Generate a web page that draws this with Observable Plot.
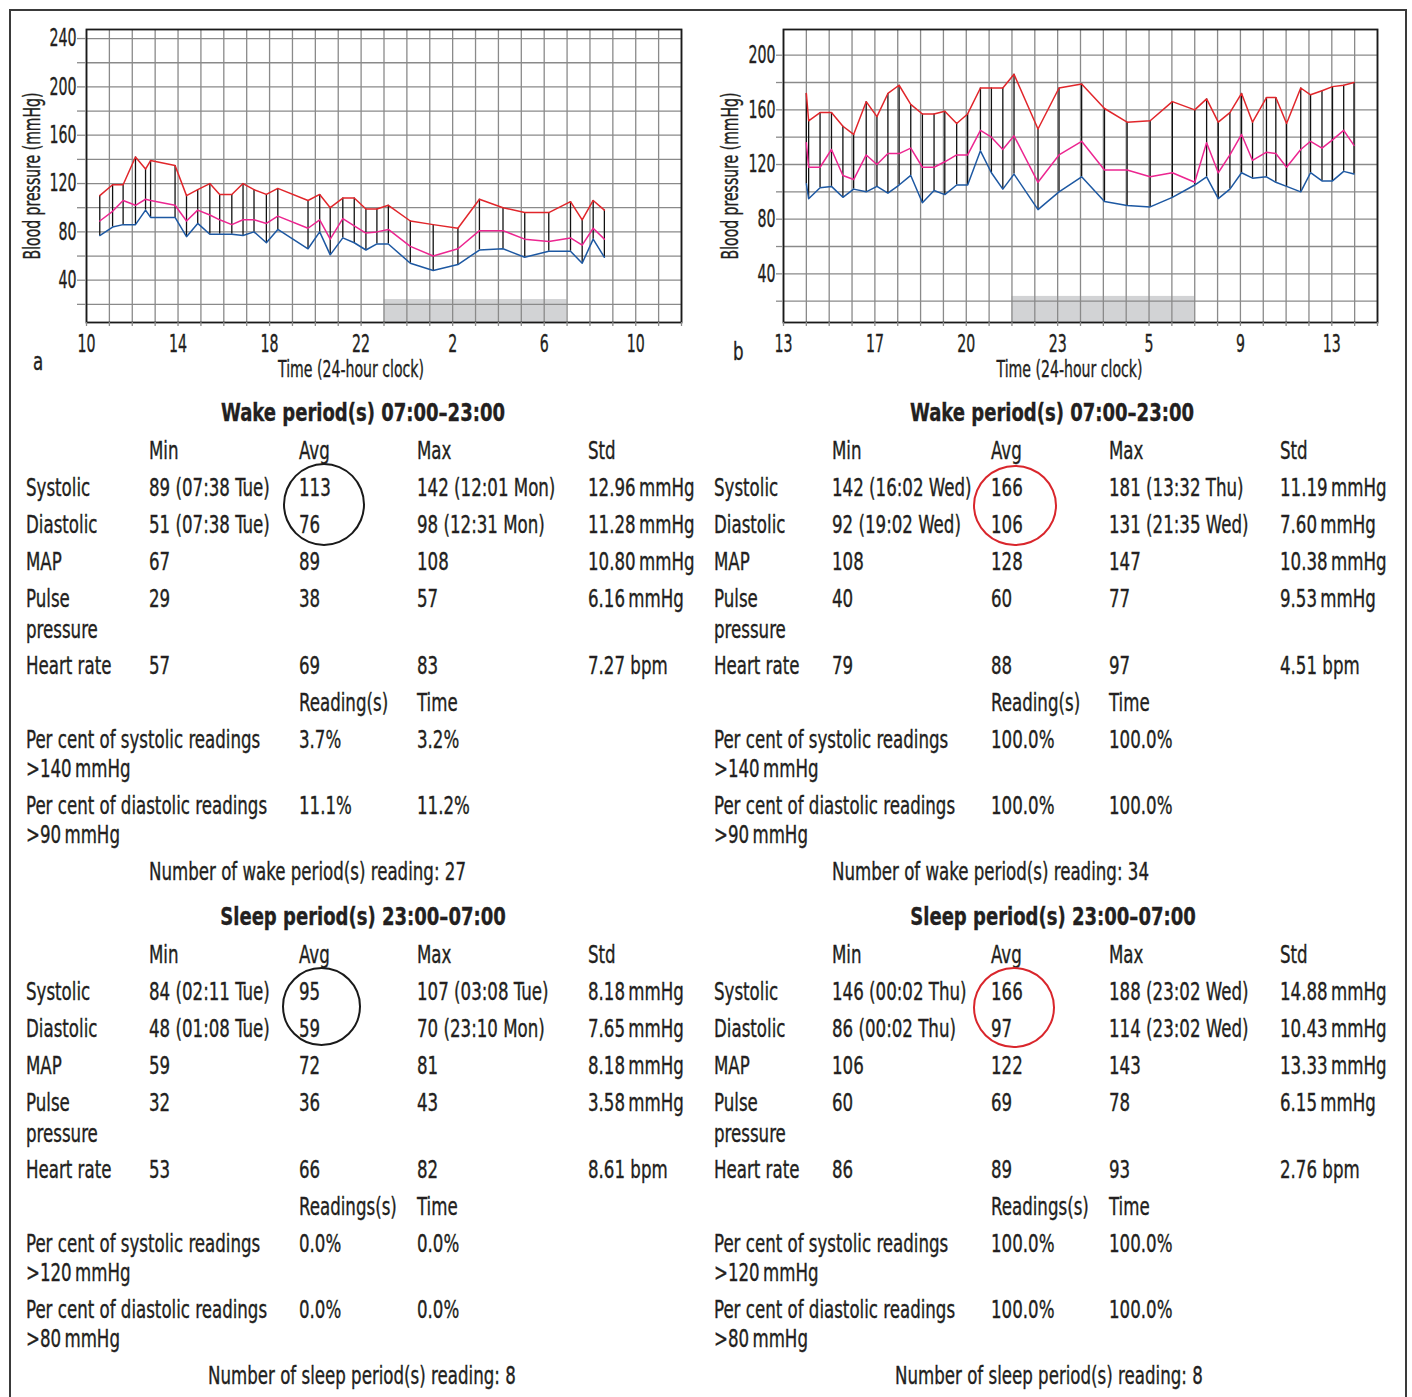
<!DOCTYPE html>
<html><head><meta charset="utf-8">
<script src="https://cdn.jsdelivr.net/npm/d3@7"></script>
<script src="https://cdn.jsdelivr.net/npm/@observablehq/plot@0.6"></script>
<style>
html,body{margin:0;padding:0;background:#fff;}
#root{position:relative;width:1412px;height:1397px;overflow:hidden;background:#fff;}
.t{position:absolute;white-space:pre;line-height:1;color:#231f20;-webkit-text-stroke:0.35px #231f20;font-family:"Liberation Sans Narrow","DejaVu Sans Condensed","Liberation Sans",Arial,sans-serif;}
.chart{position:absolute;top:0;}
.ring{position:absolute;border-radius:50%;box-sizing:border-box;}
.box{position:absolute;left:9px;top:9px;width:1398px;height:1420px;border:2px solid #3a3a3a;box-sizing:border-box;}
</style></head>
<body><div id="root"></div>
<script>
const FONT = '"Liberation Sans Narrow","DejaVu Sans Condensed","Liberation Sans",Arial,sans-serif';
const INK = "#231f20";
const RED = "#e1262b", MAG = "#ec2690", BLUE = "#1d58a2", GRID = "#8a8a8a";

// ---------- Chart a data ----------
const hoursA = [10.58, 11.14, 11.6, 12.14, 12.58, 12.8, 13.87, 14.37, 14.86, 15.39, 15.82, 16.35, 16.84, 17.32, 17.86, 18.36, 19.68, 20.19, 20.65, 21.2, 21.7, 22.21, 22.69, 23.19, 24.15, 25.15, 26.23, 27.17, 28.2, 29.15, 30.2, 31.15, 31.66, 32.14, 32.63];
const sysA = [110, 119, 119, 142, 132, 139, 135, 110, 115, 120, 111, 111, 120, 115, 111, 116, 106, 111, 100, 108, 108, 99, 99, 102, 89, 86, 83, 107, 100, 96, 96, 105, 90, 106, 98];
const mapA = [89, 97, 106, 102, 107, 106, 102, 89, 98, 94, 90, 86, 90, 90, 87, 93, 83, 90, 74, 91, 85, 79, 80, 82, 68, 60, 66, 81, 81, 74, 72, 75, 69, 83, 74];
const diaA = [77, 84, 86, 86, 98, 92, 92, 76, 87, 78, 78, 78, 77, 80, 71, 82, 66, 80, 61, 75, 71, 65, 70, 70, 54, 48, 53, 65, 66, 59, 64, 64, 54, 74, 59];
const xDomainA = [10, 36];
const yDomainA = [5, 247.5];
const yGridA = [20, 40, 60, 80, 100, 120, 140, 160, 180, 200, 220, 240];
const yLabelTicksA = [40, 80, 120, 160, 200, 240];
const xTickPosA = [10, 14, 18, 22, 26, 30, 34];
const xTickLabelsA = ["10", "14", "18", "22", "2", "6", "10"];

// ---------- Chart b data ----------
const hoursB = [14.0, 14.1, 14.6, 15.1, 15.6, 16.07, 16.62, 17.09, 17.57, 18.06, 18.57, 19.08, 19.59, 20.06, 20.58, 21.06, 21.62, 22.1, 22.6, 23.09, 24.14, 25.06, 26.05, 27.05, 28.04, 29.05, 30.02, 31.0, 31.52, 32.03, 32.54, 33.05, 33.53, 34.14, 34.55, 35.02, 35.64, 36.07, 36.57, 37.03, 37.52, 37.97];
const sysB = [172, 152, 158, 158, 148, 142, 166, 155, 172, 178, 164, 157, 157, 159, 150, 157, 176, 176, 176, 186, 146, 176, 179, 161, 151, 152, 166, 160, 168, 151, 158, 172, 151, 169, 169, 150, 176, 171, 174, 177, 178, 180];
const mapB = [136, 118, 118, 131, 112, 109, 127, 120, 128, 128, 132, 118, 118, 122, 127, 127, 145, 140, 131, 141, 107, 127, 137, 116, 116, 111, 114, 107, 136, 114, 127, 142, 123, 129, 128, 118, 131, 137, 132, 138, 145, 134];
const diaB = [106, 95, 103, 104, 96, 102, 100, 104, 99, 105, 112, 92, 101, 98, 105, 105, 130, 114, 102, 113, 87, 100, 111, 93, 90, 89, 96, 105, 111, 95, 102, 114, 110, 111, 107, 104, 100, 114, 108, 108, 115, 113];
const xDomainB = [13, 39];
const yDomainB = [4.4, 218.8];
const yGridB = [20, 40, 60, 80, 100, 120, 140, 160, 180, 200];
const yLabelTicksB = [40, 80, 120, 160, 200];
const xTickPosB = [13, 17, 21, 25, 29, 33, 37];
const xTickLabelsB = ["13", "17", "20", "23", "5", "9", "13"];

const sleepBand = [23, 31];
const sleepBandTop = [24, 23.5];
const yAxisTitle = "Blood pressure (mmHg)";
const xAxisTitle = "Time (24-hour clock)";

// ---------- Table data ----------
const statHeaders = ["Min", "Avg", "Max", "Std"];
const rowLabels = ["Systolic", "Diastolic", "MAP", "Pulse", "Heart rate"];
const wakeTitle = "Wake period(s) 07:00\u201323:00";
const sleepTitle = "Sleep period(s) 23:00\u201307:00";
const wakeStatsA = [
  ["89 (07:38 Tue)", "113", "142 (12:01 Mon)", "12.96\u2009mmHg"],
  ["51 (07:38 Tue)", "76", "98 (12:31 Mon)", "11.28\u2009mmHg"],
  ["67", "89", "108", "10.80\u2009mmHg"],
  ["29", "38", "57", "6.16\u2009mmHg"],
  ["57", "69", "83", "7.27 bpm"]];
const wakeStatsB = [
  ["142 (16:02 Wed)", "166", "181 (13:32 Thu)", "11.19\u2009mmHg"],
  ["92 (19:02 Wed)", "106", "131 (21:35 Wed)", "7.60\u2009mmHg"],
  ["108", "128", "147", "10.38\u2009mmHg"],
  ["40", "60", "77", "9.53\u2009mmHg"],
  ["79", "88", "97", "4.51 bpm"]];
const sleepStatsA = [
  ["84 (02:11 Tue)", "95", "107 (03:08 Tue)", "8.18\u2009mmHg"],
  ["48 (01:08 Tue)", "59", "70 (23:10 Mon)", "7.65\u2009mmHg"],
  ["59", "72", "81", "8.18\u2009mmHg"],
  ["32", "36", "43", "3.58\u2009mmHg"],
  ["53", "66", "82", "8.61 bpm"]];
const sleepStatsB = [
  ["146 (00:02 Thu)", "166", "188 (23:02 Wed)", "14.88\u2009mmHg"],
  ["86 (00:02 Thu)", "97", "114 (23:02 Wed)", "10.43\u2009mmHg"],
  ["106", "122", "143", "13.33\u2009mmHg"],
  ["60", "69", "78", "6.15\u2009mmHg"],
  ["86", "89", "93", "2.76 bpm"]];
const wakePctLabels = [["Per cent of systolic readings", ">140\u2009mmHg"], ["Per cent of diastolic readings", ">90\u2009mmHg"]];
const sleepPctLabels = [["Per cent of systolic readings", ">120\u2009mmHg"], ["Per cent of diastolic readings", ">80\u2009mmHg"]];
const wakePctA = [["3.7%", "3.2%"], ["11.1%", "11.2%"]];
const wakePctB = [["100.0%", "100.0%"], ["100.0%", "100.0%"]];
const sleepPctA = [["0.0%", "0.0%"], ["0.0%", "0.0%"]];
const sleepPctB = [["100.0%", "100.0%"], ["100.0%", "100.0%"]];
const wakeCountA = "Number of wake period(s) reading: 27";
const wakeCountB = "Number of wake period(s) reading: 34";
const sleepCountA = "Number of sleep period(s) reading: 8";
const sleepCountB = "Number of sleep period(s) reading: 8";

// ---------- helpers ----------
const root = document.getElementById("root");
const box = document.createElement("div"); box.className = "box"; root.appendChild(box);
const ctx = document.createElement("canvas").getContext("2d");
function mw(t, size, bold) { ctx.font = `${bold ? "bold " : ""}${size}px ${FONT}`; return ctx.measureText(t).width; }
const sBody = 317 / mw("Number of wake period(s) reading: 27", 24);
const sBold = 284 / mw("Wake period(s) 07:00\u201323:00", 25, true);
const sTick = 27 / mw("240", 24);

function put(txt, x, yc, opt = {}) {
  const size = opt.size || 24;
  const el = document.createElement("div");
  el.className = "t";
  el.textContent = txt;
  el.style.left = x + "px";
  el.style.top = (yc + 0.358 * size - 0.8465 * size) + "px";
  el.style.fontSize = size + "px";
  if (opt.bold) el.style.fontWeight = "bold";
  const s = opt.scale || sBody;
  if (opt.center) { el.style.transformOrigin = "50% 50%"; el.style.transform = `translateX(-50%) scaleX(${s})`; }
  else { el.style.transformOrigin = "0 50%"; el.style.transform = `scaleX(${s})`; }
  root.appendChild(el);
}

function bpChart(o) {
  const data = o.hours.map((h, i) => ({h, sys: o.sys[i], map: o.map[i], dia: o.dia[i]}));
  return Plot.plot({
    width: o.width, height: 390,
    marginLeft: o.marginLeft, marginRight: o.marginRight, marginTop: 29, marginBottom: 68,
    x: {domain: o.xDomain},
    y: {domain: o.yDomain},
    style: {fontFamily: FONT, fontSize: "24px", color: INK, background: "transparent", overflow: "visible"},
    marks: [
      Plot.rect([sleepBand], {x1: d => d[0], x2: d => d[1], y1: () => o.yDomain[0], y2: () => o.bandTop, fill: "#d2d3d5"}),
      Plot.gridX(d3.range(o.xDomain[0], o.xDomain[1] + 1), {stroke: GRID, strokeOpacity: 1, strokeWidth: 1.3}),
      Plot.gridY(o.yGrid, {stroke: GRID, strokeOpacity: 1, strokeWidth: 1.3}),
      Plot.ruleX(data, {x: "h", y1: "dia", y2: "sys", stroke: "#111", strokeWidth: 1.3}),
      Plot.line(data, {x: "h", y: "sys", stroke: RED, strokeWidth: 1.5}),
      Plot.line(data, {x: "h", y: "map", stroke: MAG, strokeWidth: 1.5}),
      Plot.line(data, {x: "h", y: "dia", stroke: BLUE, strokeWidth: 1.5}),
      Plot.frame({stroke: "#1a1a1a", strokeWidth: 1.8}),
      Plot.axisY(o.yGrid, {tickSize: o.yTickSize, stroke: GRID, strokeWidth: 1.3, tickFormat: () => "", label: null}),
      Plot.axisY(o.yLabelTicks, {tickSize: 0, tickPadding: o.yTickSize + 1, label: null, fill: INK}),
      Plot.axisX(d3.range(o.xDomain[0], o.xDomain[1] + 1), {tickSize: 4, stroke: GRID, strokeWidth: 1.3, tickFormat: () => "", label: null}),
      Plot.axisX(o.xTickPos, {tickSize: 0, tickPadding: 12, tickFormat: d => o.xTickLabels[o.xTickPos.indexOf(d)], label: null, fill: INK}),
      Plot.text([yAxisTitle], {frameAnchor: "left", textAnchor: "middle", lineAnchor: "middle", rotate: -90, dx: o.yLabelDx, text: d => d, fontSize: 23, fill: INK}),
      Plot.text([xAxisTitle], {frameAnchor: "bottom", textAnchor: "middle", lineAnchor: "middle", dy: 47, dx: o.xLabelDx, text: d => d, fontSize: 23, fill: INK})
    ]
  });
}

function mount(svg, left) {
  svg.classList.add("chart");
  svg.style.left = left + "px";
  root.appendChild(svg);
  svg.querySelectorAll("text").forEach(el => {
    const s = el.textContent.trim();
    if (!s) return;
    let target;
    if (/^\d+$/.test(s)) target = el.getComputedTextLength() * sTick;
    else if (s.startsWith("Blood")) target = 167;
    else target = 146;
    el.setAttribute("textLength", target);
    el.setAttribute("lengthAdjust", "spacingAndGlyphs");
    el.setAttribute("stroke", INK);
    el.setAttribute("stroke-width", 0.35);
  });
}

mount(bpChart({hours: hoursA, sys: sysA, map: mapA, dia: diaA, xDomain: xDomainA, yDomain: yDomainA,
  yGrid: yGridA, yLabelTicks: yLabelTicksA, xTickPos: xTickPosA, xTickLabels: xTickLabelsA,
  bandTop: sleepBandTop[0], width: 700, marginLeft: 86, marginRight: 19, yTickSize: 9,
  yLabelDx: -54, xLabelDx: -33}), 0);
mount(bpChart({hours: hoursB, sys: sysB, map: mapB, dia: diaB, xDomain: xDomainB, yDomain: yDomainB,
  yGrid: yGridB, yLabelTicks: yLabelTicksB, xTickPos: xTickPosB, xTickLabels: xTickLabelsB,
  bandTop: sleepBandTop[1], width: 712, marginLeft: 83, marginRight: 35, yTickSize: 7,
  yLabelDx: -53, xLabelDx: -11}), 700);

put("a", 33, 362, {});
put("b", 733, 352, {});

// ---------- tables ----------
function table(o) {
  const y0 = o.y0;
  put(o.title, o.titleX, y0 - 39, {bold: true, size: 25, center: true, scale: sBold});
  statHeaders.forEach((h, j) => put(h, o.cols[j], y0));
  const rowY = [37, 74, 111, 148, 215];
  rowLabels.forEach((r, i) => {
    put(r, o.labelX, y0 + rowY[i]);
    o.stats[i].forEach((v, j) => put(v, o.cols[j], y0 + rowY[i]));
  });
  put("pressure", o.labelX, y0 + 179);
  put(o.readingHeader, o.cols[1], y0 + 252);
  put("Time", o.cols[2], y0 + 252);
  [289, 355].forEach((dy, i) => {
    put(o.pctLabels[i][0], o.labelX, y0 + dy);
    put(o.pctLabels[i][1], o.labelX, y0 + dy + 29);
    put(o.pct[i][0], o.cols[1], y0 + dy);
    put(o.pct[i][1], o.cols[2], y0 + dy);
  });
  put(o.count, o.countX, y0 + 421);
}
const colsA = [149, 299, 417, 588], colsB = [832, 991, 1109, 1280];
table({y0: 451, title: wakeTitle, titleX: 363, cols: colsA, labelX: 26, stats: wakeStatsA, readingHeader: "Reading(s)", pctLabels: wakePctLabels, pct: wakePctA, count: wakeCountA, countX: 149});
table({y0: 451, title: wakeTitle, titleX: 1052, cols: colsB, labelX: 714, stats: wakeStatsB, readingHeader: "Reading(s)", pctLabels: wakePctLabels, pct: wakePctB, count: wakeCountB, countX: 832});
table({y0: 955, title: sleepTitle, titleX: 363, cols: colsA, labelX: 26, stats: sleepStatsA, readingHeader: "Readings(s)", pctLabels: sleepPctLabels, pct: sleepPctA, count: sleepCountA, countX: 208});
table({y0: 955, title: sleepTitle, titleX: 1053, cols: colsB, labelX: 714, stats: sleepStatsB, readingHeader: "Readings(s)", pctLabels: sleepPctLabels, pct: sleepPctB, count: sleepCountB, countX: 895});

// ---------- highlight rings ----------
function ring(cx, cy, rx, ry, color) {
  const el = document.createElement("div");
  el.className = "ring";
  el.style.left = (cx - rx) + "px"; el.style.top = (cy - ry) + "px";
  el.style.width = 2 * rx + "px"; el.style.height = 2 * ry + "px";
  el.style.border = `2px solid ${color}`;
  root.appendChild(el);
}
ring(323.5, 504.5, 41, 41.5, "#1a1a1a");
ring(321, 1006, 39.5, 39.5, "#1a1a1a");
ring(1015, 505, 42, 40.5, "#d9262c");
ring(1014, 1007.5, 41, 40.5, "#d9262c");
</script>
</body></html>
